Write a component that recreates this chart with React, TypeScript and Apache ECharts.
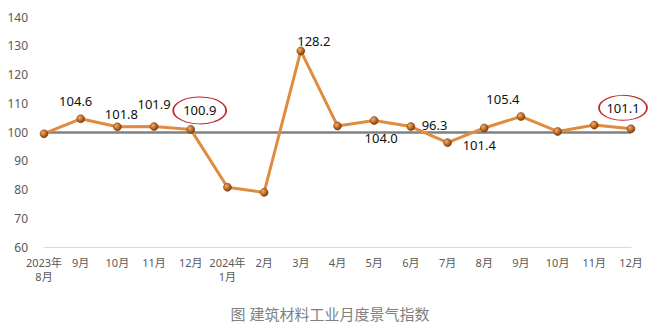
import React, { useEffect, useRef } from "react";
import * as echarts from "echarts";

const categories = [
  "2023年8月", "2023年9月", "2023年10月", "2023年11月", "2023年12月",
  "2024年1月", "2024年2月", "2024年3月", "2024年4月", "2024年5月", "2024年6月",
  "2024年7月", "2024年8月", "2024年9月", "2024年10月", "2024年11月", "2024年12月",
];
const tickLabels = [
  "2023年\n8月", "9月", "10月", "11月", "12月", "2024年\n1月", "2月", "3月",
  "4月", "5月", "6月", "7月", "8月", "9月", "10月", "11月", "12月",
];
const indexValues = [
  99.4, 104.6, 101.8, 101.9, 100.9, 80.8, 79.0, 128.2, 102.1, 104.0, 101.9,
  96.3, 101.4, 105.4, 100.2, 102.4, 101.1,
];
const shownLabels = [
  null, "104.6", "101.8", "101.9", "100.9", null, null, "128.2", null, "104.0",
  null, "96.3", "101.4", "105.4", null, null, "101.1",
];
const circledIndices = [4, 16];
const yTicks = { min: 60, max: 140, interval: 10 };
const baseline = 100;
const caption = "图 建筑材料工业月度景气指数";

// label offsets (presentation)
const labelOffsets: Record<number, [number, number]> = {
  1: [-5, -18],
  2: [4, -13],
  3: [0, -23],
  4: [9, -19],
  7: [13, -10],
  9: [7, 17],
  11: [-13, -18],
  12: [-5, 17],
  13: [-18, -17],
  16: [-8, -21],
};
const ellipseSizes: Record<number, [number, number]> = {
  4: [53, 27],
  16: [48, 25],
};

export default function App() {
  const ref = useRef<HTMLDivElement>(null);
  useEffect(() => {
    if (!ref.current) return;
    const chart = echarts.init(ref.current, undefined, { renderer: "svg" });
    const font = "'Noto Sans', 'Noto Sans CJK SC', sans-serif";
    const data = indexValues.map((v, i) => {
      const txt = shownLabels[i];
      const item: any = { value: v };
      if (txt) {
        item.label = {
          show: true,
          position: "inside",
          offset: labelOffsets[i] || [0, -15],
          formatter: txt,
          color: "#111",
          fontSize: 13,
          fontFamily: font,
        };
      } else {
        item.label = { show: false };
      }
      return item;
    });
    chart.setOption({
      animation: false,
      grid: { left: 44, right: 29, top: 17, bottom: 83 },
      title: {
        text: caption,
        left: "center",
        top: 301,
        textStyle: { color: "#808080", fontSize: 15, fontWeight: "normal", fontFamily: font },
      },
      xAxis: {
        type: "category",
        data: categories,
        boundaryGap: false,
        axisLine: { lineStyle: { color: "#d9d9d9", width: 1 } },
        axisTick: { show: false },
        axisLabel: {
          interval: 0,
          color: "#595959",
          fontSize: 11,
          lineHeight: 14,
          margin: 8,
          fontFamily: font,
          formatter: (_v: string, i: number) => tickLabels[i],
        },
      },
      yAxis: {
        type: "value",
        min: yTicks.min,
        max: yTicks.max,
        interval: yTicks.interval,
        axisLine: { show: false },
        axisTick: { show: false },
        splitLine: { show: false },
        axisLabel: { color: "#595959", fontSize: 12, margin: 16, fontFamily: font },
      },
      series: [
        {
          type: "line",
          data,
          z: 3,
          symbol: "circle",
          symbolSize: 8,
          lineStyle: { color: "#E08C3E", width: 3 },
          itemStyle: {
            color: new echarts.graphic.RadialGradient(0.35, 0.35, 0.7, [
              { offset: 0, color: "#F0B070" },
              { offset: 0.6, color: "#B8651F" },
              { offset: 1, color: "#7A3C0C" },
            ]),
            borderColor: "#6e3508",
            borderWidth: 0.5,
          },
          markLine: {
            z: 1,
            silent: true,
            symbol: ["none", "none"],
            label: { show: false },
            lineStyle: { color: "#808080", width: 2.5, type: "solid" },
            data: [{ yAxis: baseline }],
          },
          markPoint: {
            silent: true,
            z: 4,
            data: circledIndices.map((i) => ({
              coord: [i, indexValues[i]],
              symbol: "circle",
              symbolSize: ellipseSizes[i],
              symbolOffset: labelOffsets[i],
              itemStyle: { color: "rgba(0,0,0,0)", borderColor: "#C0282D", borderWidth: 1.3 },
              label: { show: false },
            })),
          },
        },
      ],
    });
    return () => chart.dispose();
  }, []);
  return (
    <div
      ref={ref}
      style={{ position: "fixed", left: 0, top: 0, width: 660, height: 330, background: "#fff" }}
    />
  );
}
